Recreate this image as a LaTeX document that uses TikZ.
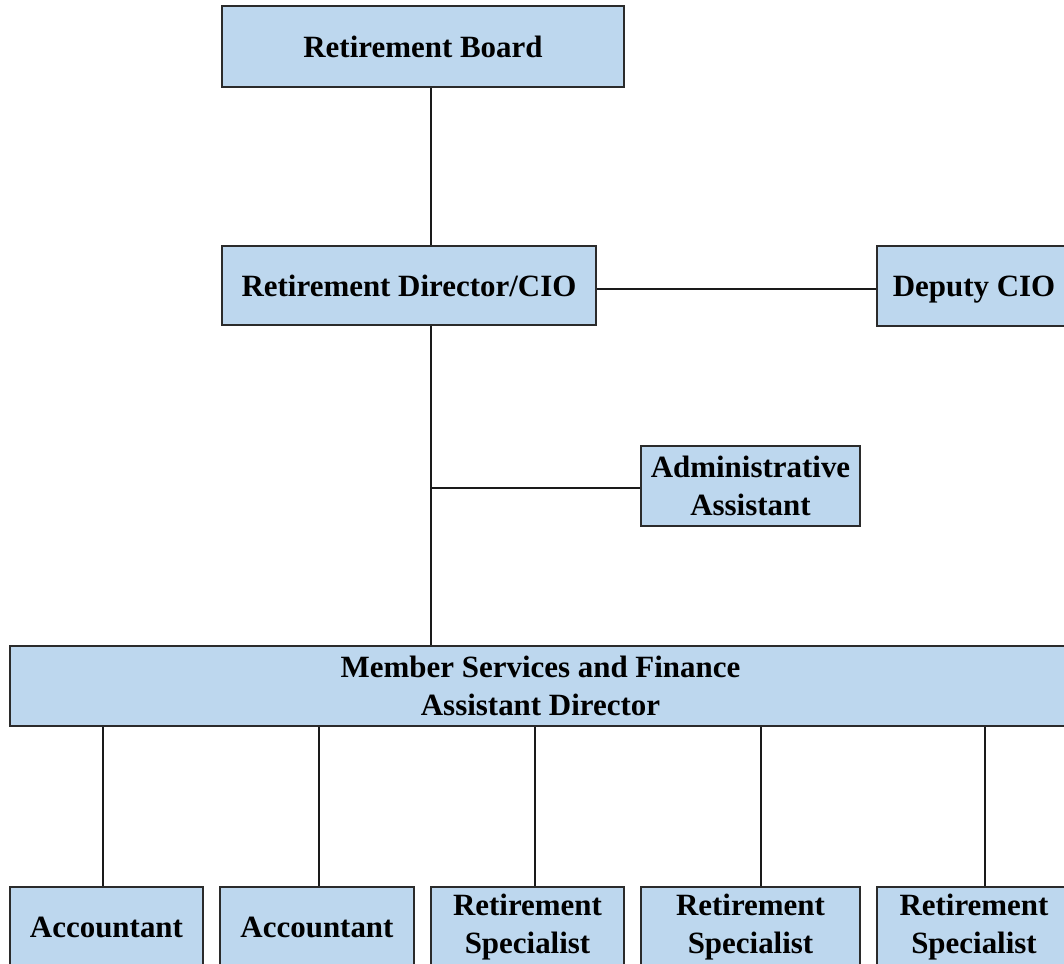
\documentclass[tikz,border=0pt]{standalone}
\usepackage{fontspec}
\setmainfont{Liberation Serif}
\definecolor{boxfill}{HTML}{BDD7EE}
\definecolor{boxline}{HTML}{2B2B2B}
\definecolor{linecol}{HTML}{1A1A1A}
\begin{document}
\begin{tikzpicture}[x=0.01cm,y=-0.01cm,
  box/.style={draw=boxline, fill=boxfill, line width=0.65pt, inner sep=0pt, align=center,
    font=\fontsize{8.8}{10.8}\selectfont\bfseries, text=black, minimum height=0.8cm},
  link/.style={draw=linecol, line width=0.55pt}]
\useasboundingbox (0,0) rectangle (1064,964);
\clip (0,0) rectangle (1064,964);
\node[box, minimum width=4.02cm, minimum height=0.81cm] (board) at (423,46.5) {Retirement Board};
\node[box, minimum width=3.74cm, minimum height=0.79cm, text depth=0pt] (dir) at (409,285.5) {Retirement Director/CIO};
\node[box, minimum width=1.94cm, text depth=0pt] (dep) at (974,286) {Deputy CIO};
\node[box, minimum width=2.19cm] (adm) at (750.5,486) {Administrative\\Assistant};
\node[box, minimum width=10.61cm] (mem) at (540.5,686) {Member Services and Finance\\Assistant Director};
\node[box, minimum width=1.93cm] (b1) at (106.5,927) {Accountant};
\node[box, minimum width=1.94cm] (b2) at (317,927) {Accountant};
\node[box, minimum width=1.93cm] (b3) at (527.5,927) {Retirement\\Specialist};
\node[box, minimum width=2.19cm] (b4) at (750.5,927) {Retirement\\Specialist};
\node[box, minimum width=1.94cm] (b5) at (974,927) {Retirement\\Specialist};
\coordinate (c1) at (431,0);
\coordinate (h) at (0,289);
\coordinate (j) at (431,488);
\coordinate (x1) at (103,0);
\coordinate (x2) at (319,0);
\coordinate (x3) at (535,0);
\coordinate (x4) at (761,0);
\coordinate (x5) at (985,0);
\draw[link] (board.south -| c1) -- (dir.north -| c1);
\draw[link] (dir.east |- h) -- (dep.west |- h);
\draw[link] (dir.south -| c1) -- (mem.north -| c1);
\draw[link] (j) -- (adm.west |- j);
\draw[link] (mem.south -| x1) -- (b1.north -| x1);
\draw[link] (mem.south -| x2) -- (b2.north -| x2);
\draw[link] (mem.south -| x3) -- (b3.north -| x3);
\draw[link] (mem.south -| x4) -- (b4.north -| x4);
\draw[link] (mem.south -| x5) -- (b5.north -| x5);
\end{tikzpicture}
\end{document}
